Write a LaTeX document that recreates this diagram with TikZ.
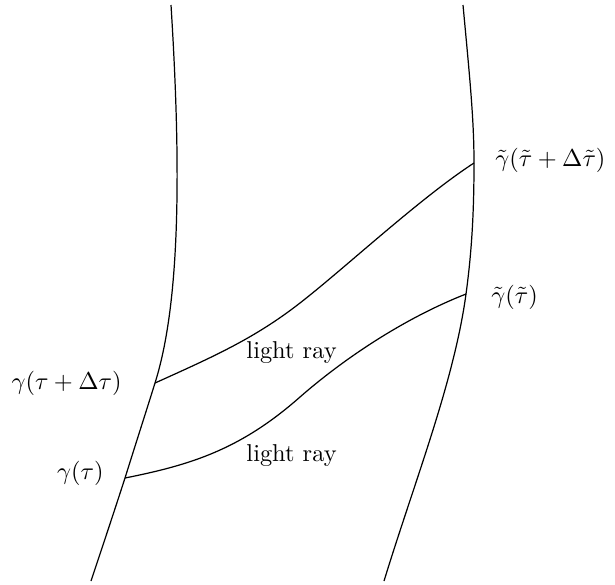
\documentclass[tikz,border=0pt]{standalone}
\begin{document}
\begin{tikzpicture}[x=0.41pt,y=-0.41pt,
  line/.style={line width=0.5pt},
  lbl/.style={inner sep=0pt}]
\useasboundingbox (0,0) rectangle (615,584);
% events
\coordinate (A) at (125,478);
\coordinate (B) at (155,383);
\coordinate (C) at (466,294);
\coordinate (D) at (474,163);
\coordinate (T1) at (171,5);
\coordinate (E1) at (91,581);
\coordinate (T2) at (463,5);
\coordinate (E2) at (384,581);
% worldlines
\draw[line] (T1) .. controls (182,180) and (179,307) .. (B)
  .. controls (145,415) and (135,446) .. (A)
  .. controls (114,512) and (102,548) .. (E1);
\draw[line] (T2) .. controls (470,80) and (474,120) .. (D)
  .. controls (474,210) and (472,250) .. (C)
  .. controls (454,382) and (415,480) .. (E2);
% light rays
\draw[line] (B) .. controls (215,356) and (255,338) .. (300,303)
  .. controls (345,268) and (420,198) .. (D);
\draw[line] (A) .. controls (190,465) and (240,450) .. (300,397)
  .. controls (340,362) and (400,320) .. (C);
% labels
\node[lbl,anchor=east] (lA) at (104,473) {$\gamma(\tau)$};
\node[lbl,anchor=east] (lB) at (122,383) {$\gamma(\tau+\Delta\tau)$};
\node[lbl,anchor=west] (lC) at (491,297) {$\tilde\gamma(\tilde\tau)$};
\node[lbl,anchor=west] (lD) at (495,160) {$\tilde\gamma(\tilde\tau+\Delta\tilde\tau)$};
\node[lbl,anchor=west] (r1) at (246,353) {light ray};
\node[lbl,anchor=west] (r2) at (246,456) {light ray};
\end{tikzpicture}
\end{document}
